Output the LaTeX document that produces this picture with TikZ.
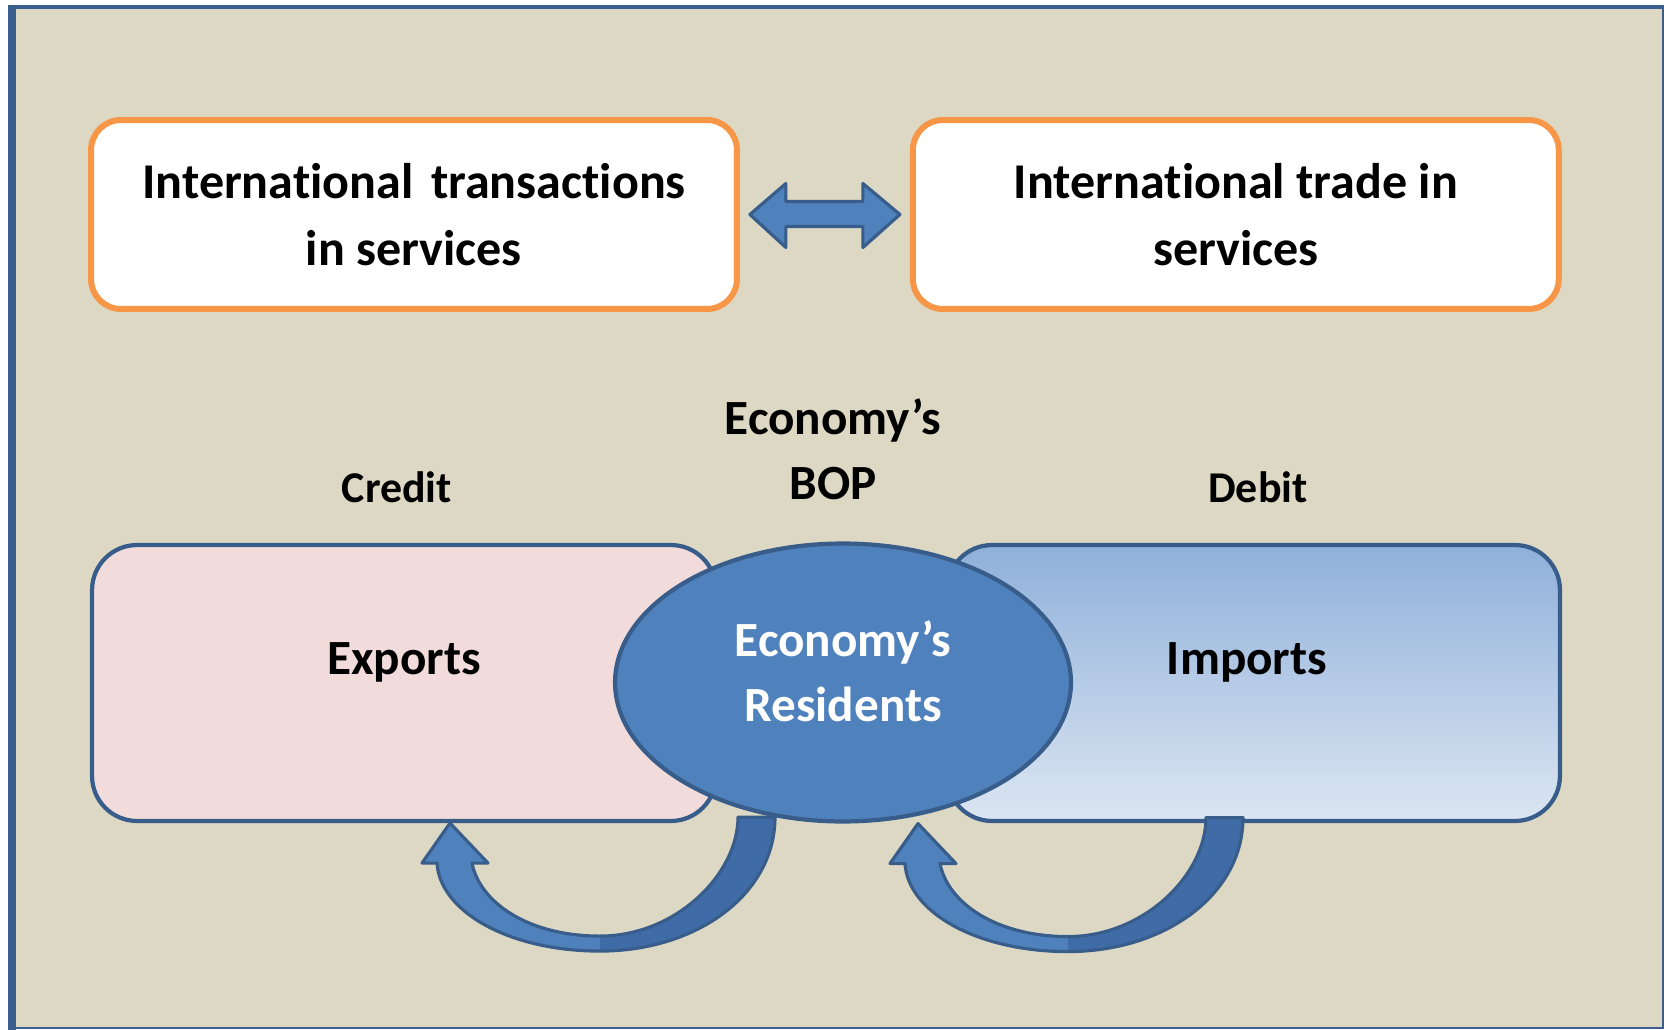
\documentclass[tikz,border=0pt]{standalone}
\usepackage{fontspec}
\setmainfont{Carlito}[Ligatures=NoCommon]
\usetikzlibrary{positioning, shapes.geometric, calc}
\definecolor{paper}{HTML}{DDD8C4}
\definecolor{frameblue}{HTML}{3A5F8F}
\definecolor{orangeline}{HTML}{F79646}
\definecolor{blushpink}{HTML}{F2DCDB}
\definecolor{midblue}{HTML}{4F81BD}
\definecolor{deepblue}{HTML}{385D8A}
\definecolor{shadeblue}{HTML}{3F6CA6}
\definecolor{skytop}{HTML}{8FB0DA}
\definecolor{skybottom}{HTML}{DCE6F2}
\tikzset{
topbox/.style={draw=orangeline, line width=3.4pt, fill=white, rounded corners=0.6cm, minimum width=12.92cm, minimum height=3.78cm, align=center, font=\fontsize{28.5}{38}\selectfont\bfseries}, % the two orange boxes
midtext/.style={align=center, font=\fontsize{28}{37}\selectfont\bfseries}, % labels
sidetext/.style={font=\fontsize{25}{30}\selectfont\bfseries}, % credit / debit
flowbox/.style={draw=deepblue, line width=2.4pt, rounded corners=0.9cm, minimum height=5.52cm}, % credit and debit side
dblarrow/.style={fill=midblue, draw=deepblue, line width=1.8pt, line join=round},
pics/bendarrow/.style={code={
  \def\bendline{(0,0) -- (38,40) -- (22,40) .. controls (30,80) and (79,113) .. (150,113)
    .. controls (226,113) and (288,51) .. (288,-6) -- (325,-6)
    .. controls (325,71) and (247,128) .. (150,128)
    .. controls (60,128) and (-10,89) .. (-13,40) -- (-28,40) -- cycle}
  \fill[midblue] \bendline;
  \fill[shadeblue] (150,113) .. controls (226,113) and (288,51) .. (288,-6) -- (325,-6)
    .. controls (325,71) and (247,128) .. (150,128) -- cycle;
  \draw[deepblue, line width=1.8pt, line join=round] \bendline;
}},
}

\begin{document}
\begin{tikzpicture}[x=0.02cm, y=-0.02cm]
\useasboundingbox (0,0) rectangle (1666,1030);
\fill[paper] (12,7) rectangle (1663,1028);
\draw[frameblue, line width=1.2pt] (12,7) rectangle (1663,1028);
\draw[frameblue, line width=4.5pt] (12,5) -- (12,1030);
\draw[frameblue, line width=2.3pt] (8,7) -- (1664,7);

\node[topbox] (trans) at (414,214.5) {International\hspace{0.12em} transactions\\in services};
\node[topbox, right=3.4cm of trans] (trade) {International trade in\\services};
\coordinate (mid) at ($(trans.east)!0.5!(trade.west)$);
\draw[dblarrow] (mid) ++(-75,0) -- ++(36,-31) -- ++(0,18) -- ++(77,0) -- ++(0,-18)
  -- ++(37,31) -- ++(-37,33) -- ++(0,-21) -- ++(-77,0) -- ++(0,21) -- cycle;

\node[midtext] (bop) at (833,449) {Economy’s\\BOP};
\node[sidetext] (credit) at (397,487) {Credit};
\node[sidetext] (debit) at (1258,487) {Debit};

\node[flowbox, fill=blushpink, minimum width=12.48cm,
  label={[midtext, yshift=0.42cm]center:Exports}] (exp) at (404,683) {};
\node[flowbox, top color=skytop, bottom color=skybottom, minimum width=12.26cm,
  label={[midtext, yshift=0.42cm, xshift=-0.13cm]center:Imports}] (imp) at (1253.5,683) {};
\node[ellipse, fill=midblue, draw=deepblue, line width=2.4pt, minimum width=9.12cm, minimum height=5.56cm,
  label={[midtext, white, yshift=0.23cm]center:{Economy’s\\Residents}}] (res) at (843,682.5) {};

\pic at ([xshift=0.92cm]exp.south) {bendarrow};
\pic at ([xshift=1.5cm]res.south) {bendarrow};
\end{tikzpicture}
\end{document}
